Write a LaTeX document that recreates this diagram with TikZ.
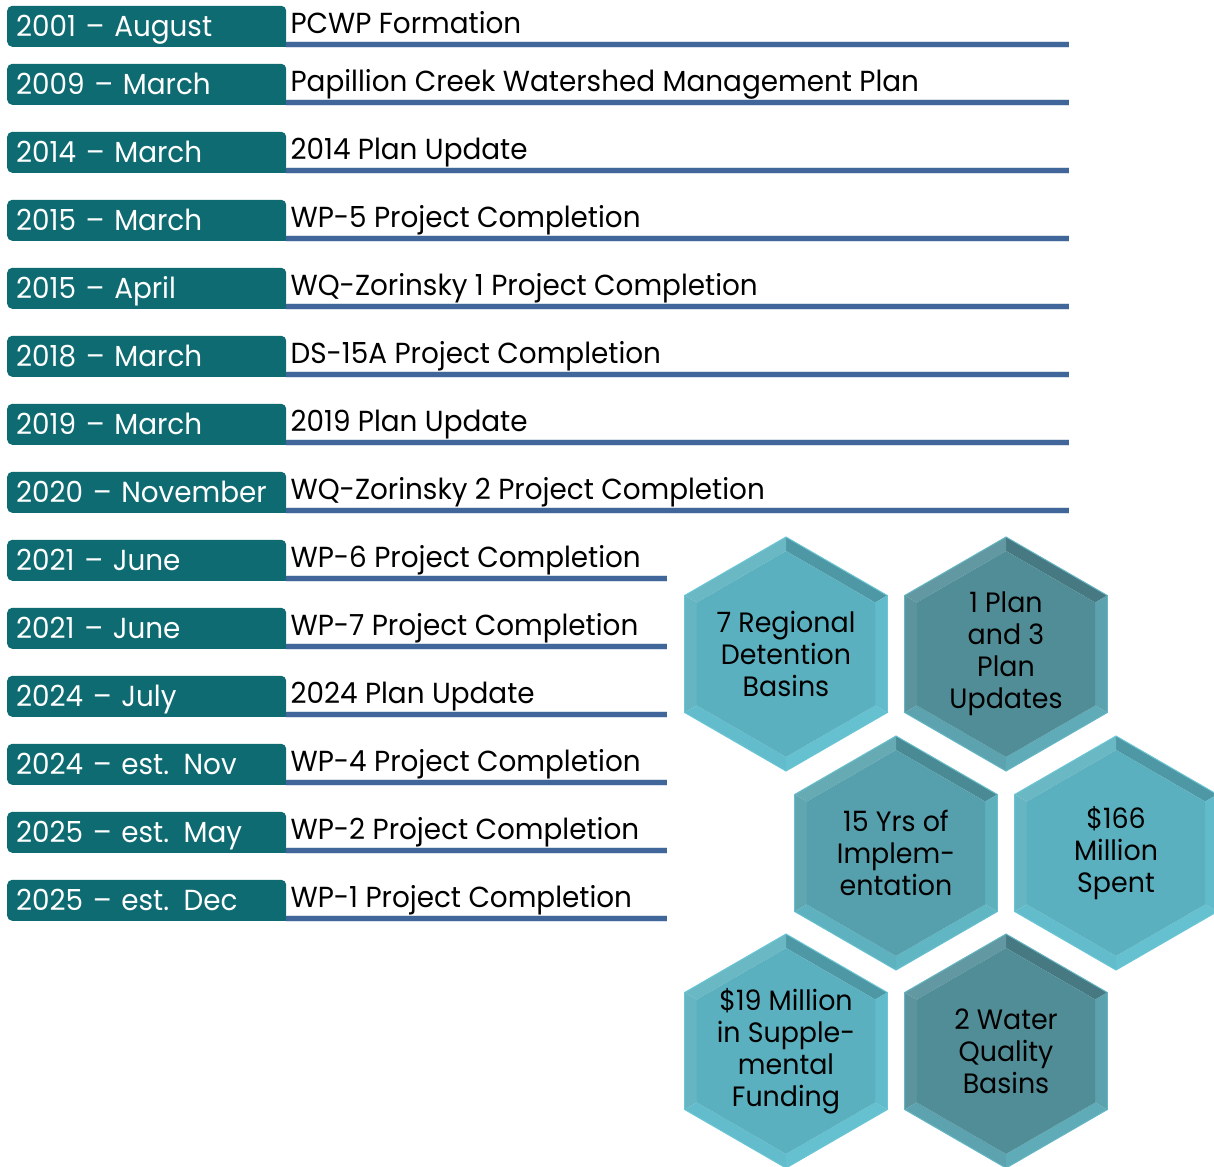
\documentclass[tikz,border=0pt]{standalone}
\usepackage{fontspec}
\setmainfont[FakeStretch=0.96]{Poppins}
\usepackage{tikz}
\usetikzlibrary{calc,positioning}
\definecolor{tabteal}{HTML}{0F6B72}
\definecolor{rulebl}{HTML}{41679A}
\definecolor{hexlight}{HTML}{5BB0BF}
\definecolor{hexmid}{HTML}{55A0AC}
\definecolor{hexdark}{HTML}{518D97}
\definecolor{rim}{HTML}{74D8E8}

\begin{document}
\begin{tikzpicture}[x=1pt, y=-1pt,
  datetab/.style={fill=tabteal, rounded corners=5pt, anchor=south west,
                  text width=261pt, inner xsep=9pt, inner ysep=6.5pt, align=left,
                  text=white, font=\fontsize{29}{32}\selectfont,
                  text height=24pt, text depth=4pt},
  event/.style={anchor=base west, inner sep=0pt, font=\fontsize{29}{32}\selectfont},
  rule/.style={draw=rulebl, line width=5pt, preaction={draw=rulebl!20, line width=6.5pt}},
  hextext/.style={align=center, inner sep=0pt, font=\fontsize{28}{32}\selectfont},
]
  \useasboundingbox (0,0) rectangle (1214,1166);

  \foreach \i/\b/\date/\what/\len in {
      1/47/{2001 – August}/{PCWP Formation}/783,
      2/105/{2009 – March}/{Papillion Creek Watershed Management Plan}/783,
      3/173/{2014 – March}/{2014 Plan Update}/783,
      4/241/{2015 – March}/{WP-5 Project Completion}/783,
      5/309/{2015 – April}/{WQ-Zorinsky 1 Project Completion}/783,
      6/377/{2018 – March}/{DS-15A Project Completion}/783,
      7/445/{2019 – March}/{2019 Plan Update}/783,
      8/513/{2020 – November}/{WQ-Zorinsky 2 Project Completion}/783,
      9/581/{2021 – June}/{WP-6 Project Completion}/381,
      10/649/{2021 – June}/{WP-7 Project Completion}/381,
      11/717/{2024 – July}/{2024 Plan Update}/381,
      12/785/{2024 – est. Nov}/{WP-4 Project Completion}/381,
      13/853/{2025 – est. May}/{WP-2 Project Completion}/381,
      14/921/{2025 – est. Dec}/{WP-1 Project Completion}/381}
  {
    \node[datetab] (d\i) at (7,\b) {\date};
    \fill[tabteal] ([xshift=-6pt]d\i.south east) rectangle ([yshift=6pt]d\i.south east);
    \draw[rule] ([yshift=2.5pt]d\i.south east) -- ++(\len,0);
    \node[event] (e\i) at ([xshift=4pt,yshift=13.5pt]d\i.south east) {\what};
  }

  \foreach \n/\cx/\cy/\face/\txt in {
      basins/786/654/hexlight/{7 Regional\\Detention\\Basins},
      plans/1006/654/hexdark/{1 Plan\\and 3\\Plan\\Updates},
      years/896/853/hexmid/{15 Yrs of\\Implem-\\entation},
      spent/1116/853/hexlight/{\$166\\Million\\Spent},
      funding/786/1051/hexlight/{\$19 Million\\in Supple-\\mental\\Funding},
      quality/1006/1051/hexdark/{2 Water\\Quality\\Basins}}
  {
    \coordinate (\n) at (\cx,\cy);
    \foreach \a/\pct/\tint in {30/86/black, 90/90/white, 150/94/white,
                               210/70/rim, 270/60/rim, 330/72/rim}
      \fill[\face!\pct!\tint] ([shift={(-\a:117)}]\n) -- ([shift={(-\a-60:117)}]\n)
        -- ([shift={(-\a-60:103)}]\n) -- ([shift={(-\a:103)}]\n) -- cycle;
    \fill[\face] ([shift={(30:103)}]\n)
      \foreach \a in {90,150,...,330} { -- ([shift={(\a:103)}]\n) } -- cycle;
    \draw[\face!45!rim, line width=1pt] ([shift={(30:117)}]\n)
      \foreach \a in {90,150,...,330} { -- ([shift={(\a:117)}]\n) } -- cycle;
    \node[hextext] (\n-txt) at (\n) {\txt};
  }
\end{tikzpicture}
\end{document}
